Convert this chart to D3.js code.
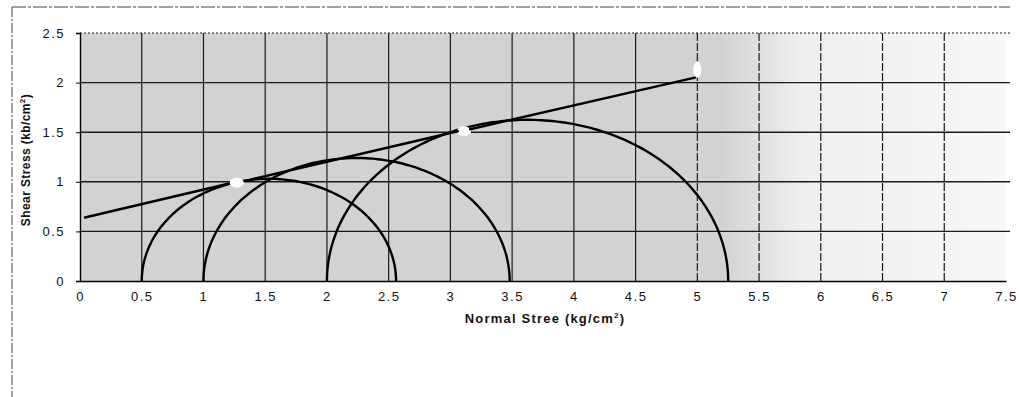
<!DOCTYPE html>
<html>
<head>
<meta charset="utf-8">
<script src="https://cdn.jsdelivr.net/npm/d3@7"></script>
<style>
  body { margin: 0; background: #fff; }
  svg text { font-family: "Liberation Sans", Arial, sans-serif; fill: #111; }
</style>
</head>
<body>
<svg id="chart" width="1019" height="397"></svg>
<script>
// tick values
var xTicks = [0, 0.5, 1, 1.5, 2, 2.5, 3, 3.5, 4, 4.5, 5, 5.5, 6, 6.5, 7, 7.5];
var yTicks = [0, 0.5, 1, 1.5, 2, 2.5];

// Mohr circles: minor and major principal stress (kg/cm2)
var sigma3 = [0.5, 1.0, 2.0];
var sigma1 = [2.56, 3.48, 5.25];

// failure envelope, drawn in broken pieces like the scan
var envStartX = [0.04, 1.34, 3.16];
var envStartY = [0.64, 1.01, 1.53];
var envEndX = [1.20, 3.06, 4.98];
var envEndY = [0.98, 1.51, 2.05];

// white blots where the scan lost the ink
var blotX = [1.27, 3.11, 5.0];
var blotY = [0.99, 1.51, 2.13];

var svg = d3.select('#chart');
var plotL = 80, plotR = 1006, plotT = 33, plotB = 281;

var x = d3.scaleLinear().domain([0, 7.5]).range([plotL, plotR]);
var y = d3.scaleLinear().domain([0, 2.5]).range([plotB, plotT]);

// chart area border (dotted, scanned)
svg.append('line').attr('x1', 12).attr('y1', 7).attr('x2', 1010).attr('y2', 7)
  .attr('stroke', '#444').attr('stroke-width', 1).attr('stroke-dasharray', '14,2,3,2');
svg.append('line').attr('x1', 12).attr('y1', 7).attr('x2', 12).attr('y2', 397)
  .attr('stroke', '#444').attr('stroke-width', 1).attr('stroke-dasharray', '10,2,2,2');

// grey plot area fading out to the right
var defs = svg.append('defs');
var grad = defs.append('linearGradient').attr('id', 'bg').attr('x1', '0').attr('x2', '1');
grad.append('stop').attr('offset', '0').attr('stop-color', '#d2d2d2');
grad.append('stop').attr('offset', '0.69').attr('stop-color', '#d2d2d2');
grad.append('stop').attr('offset', '0.78').attr('stop-color', '#efefef');
grad.append('stop').attr('offset', '1').attr('stop-color', '#f8f8f8');

svg.append('rect')
  .attr('x', plotL).attr('y', plotT)
  .attr('width', plotR - plotL).attr('height', plotB - plotT)
  .attr('fill', 'url(#bg)');

// gridlines
svg.append('g').selectAll('line').data(yTicks.slice(1)).join('line')
  .attr('x1', plotL).attr('x2', plotR + 4)
  .attr('y1', function(d) { return y(d); }).attr('y2', function(d) { return y(d); })
  .attr('stroke', '#1a1a1a')
  .attr('stroke-width', function(d) { return d === 2.5 ? 1 : 1.4; })
  .attr('stroke-dasharray', function(d) { return d === 2.5 ? '2,2' : null; });

svg.append('g').selectAll('line').data(xTicks.slice(1, -1)).join('line')
  .attr('x1', function(d) { return x(d); }).attr('x2', function(d) { return x(d); })
  .attr('y1', plotT).attr('y2', plotB)
  .attr('stroke', '#1a1a1a').attr('stroke-width', 1.2)
  .attr('stroke-dasharray', function(d) { return d >= 5 ? '8,2' : null; });

// axes
var xAxis = svg.append('g').attr('transform', 'translate(0,' + plotB + ')')
  .call(d3.axisBottom(x).tickValues(xTicks).tickSize(0).tickPadding(10)
    .tickFormat(function(d) { return String(d); }));
xAxis.select('.domain').attr('stroke', '#000').attr('stroke-width', 1.6);
xAxis.selectAll('text').attr('font-size', 13).attr('letter-spacing', 1.5)
  .attr('fill', '#111').attr('dy', '0.8em');

var yAxis = svg.append('g').attr('transform', 'translate(' + plotL + ',0)')
  .call(d3.axisLeft(y).tickValues(yTicks).tickSize(4).tickPadding(11)
    .tickFormat(function(d) { return String(d); }));
yAxis.select('.domain').attr('stroke', '#000').attr('stroke-width', 1.4);
yAxis.selectAll('.tick line').attr('stroke', '#000');
yAxis.selectAll('text').attr('font-size', 13).attr('letter-spacing', 1.5).attr('fill', '#111');

// Mohr circles (upper half)
var angles = d3.range(0, 181, 2);
var circleLine = d3.line()
  .x(function(d) { return x(d[0]); })
  .y(function(d) { return y(d[1]); })
  .curve(d3.curveCatmullRom);

sigma3.forEach(function(s3, i) {
  var c = (s3 + sigma1[i]) / 2, r = (sigma1[i] - s3) / 2;
  var pts = angles.map(function(a) {
    var t = a * Math.PI / 180;
    return [c - r * Math.cos(t), r * Math.sin(t)];
  });
  svg.append('path').attr('d', circleLine(pts))
    .attr('fill', 'none').attr('stroke', '#000').attr('stroke-width', 2.4);
});

// blots
svg.append('g').selectAll('ellipse').data(blotX).join('ellipse')
  .attr('cx', function(d) { return x(d); })
  .attr('cy', function(d, i) { return y(blotY[i]); })
  .attr('rx', function(d, i) { return i === 2 ? 4 : 7; })
  .attr('ry', function(d, i) { return i === 2 ? 8 : 5; })
  .attr('fill', '#fff');

// envelope pieces
svg.append('g').selectAll('line').data(envStartX).join('line')
  .attr('x1', function(d) { return x(d); })
  .attr('y1', function(d, i) { return y(envStartY[i]); })
  .attr('x2', function(d, i) { return x(envEndX[i]); })
  .attr('y2', function(d, i) { return y(envEndY[i]); })
  .attr('stroke', '#000').attr('stroke-width', 2.4).attr('stroke-linecap', 'round');

// axis titles
var xt = svg.append('text')
  .attr('x', 545).attr('y', 323)
  .attr('text-anchor', 'middle')
  .attr('font-size', 13).attr('font-weight', 'bold').attr('letter-spacing', 1.2)
  .text('Normal Stree (kg/cm');
xt.append('tspan').attr('dy', -5).attr('font-size', 8).text('2');
xt.append('tspan').attr('dy', 5).text(')');

var yt = svg.append('text')
  .attr('transform', 'translate(30,160) rotate(-90)')
  .attr('text-anchor', 'middle')
  .attr('font-size', 12).attr('font-weight', 'bold').attr('letter-spacing', 0.4)
  .text('Shear Stress (kb/cm');
yt.append('tspan').attr('dy', -5).attr('font-size', 8).text('2');
yt.append('tspan').attr('dy', 5).text(')');
</script>
</body>
</html>
